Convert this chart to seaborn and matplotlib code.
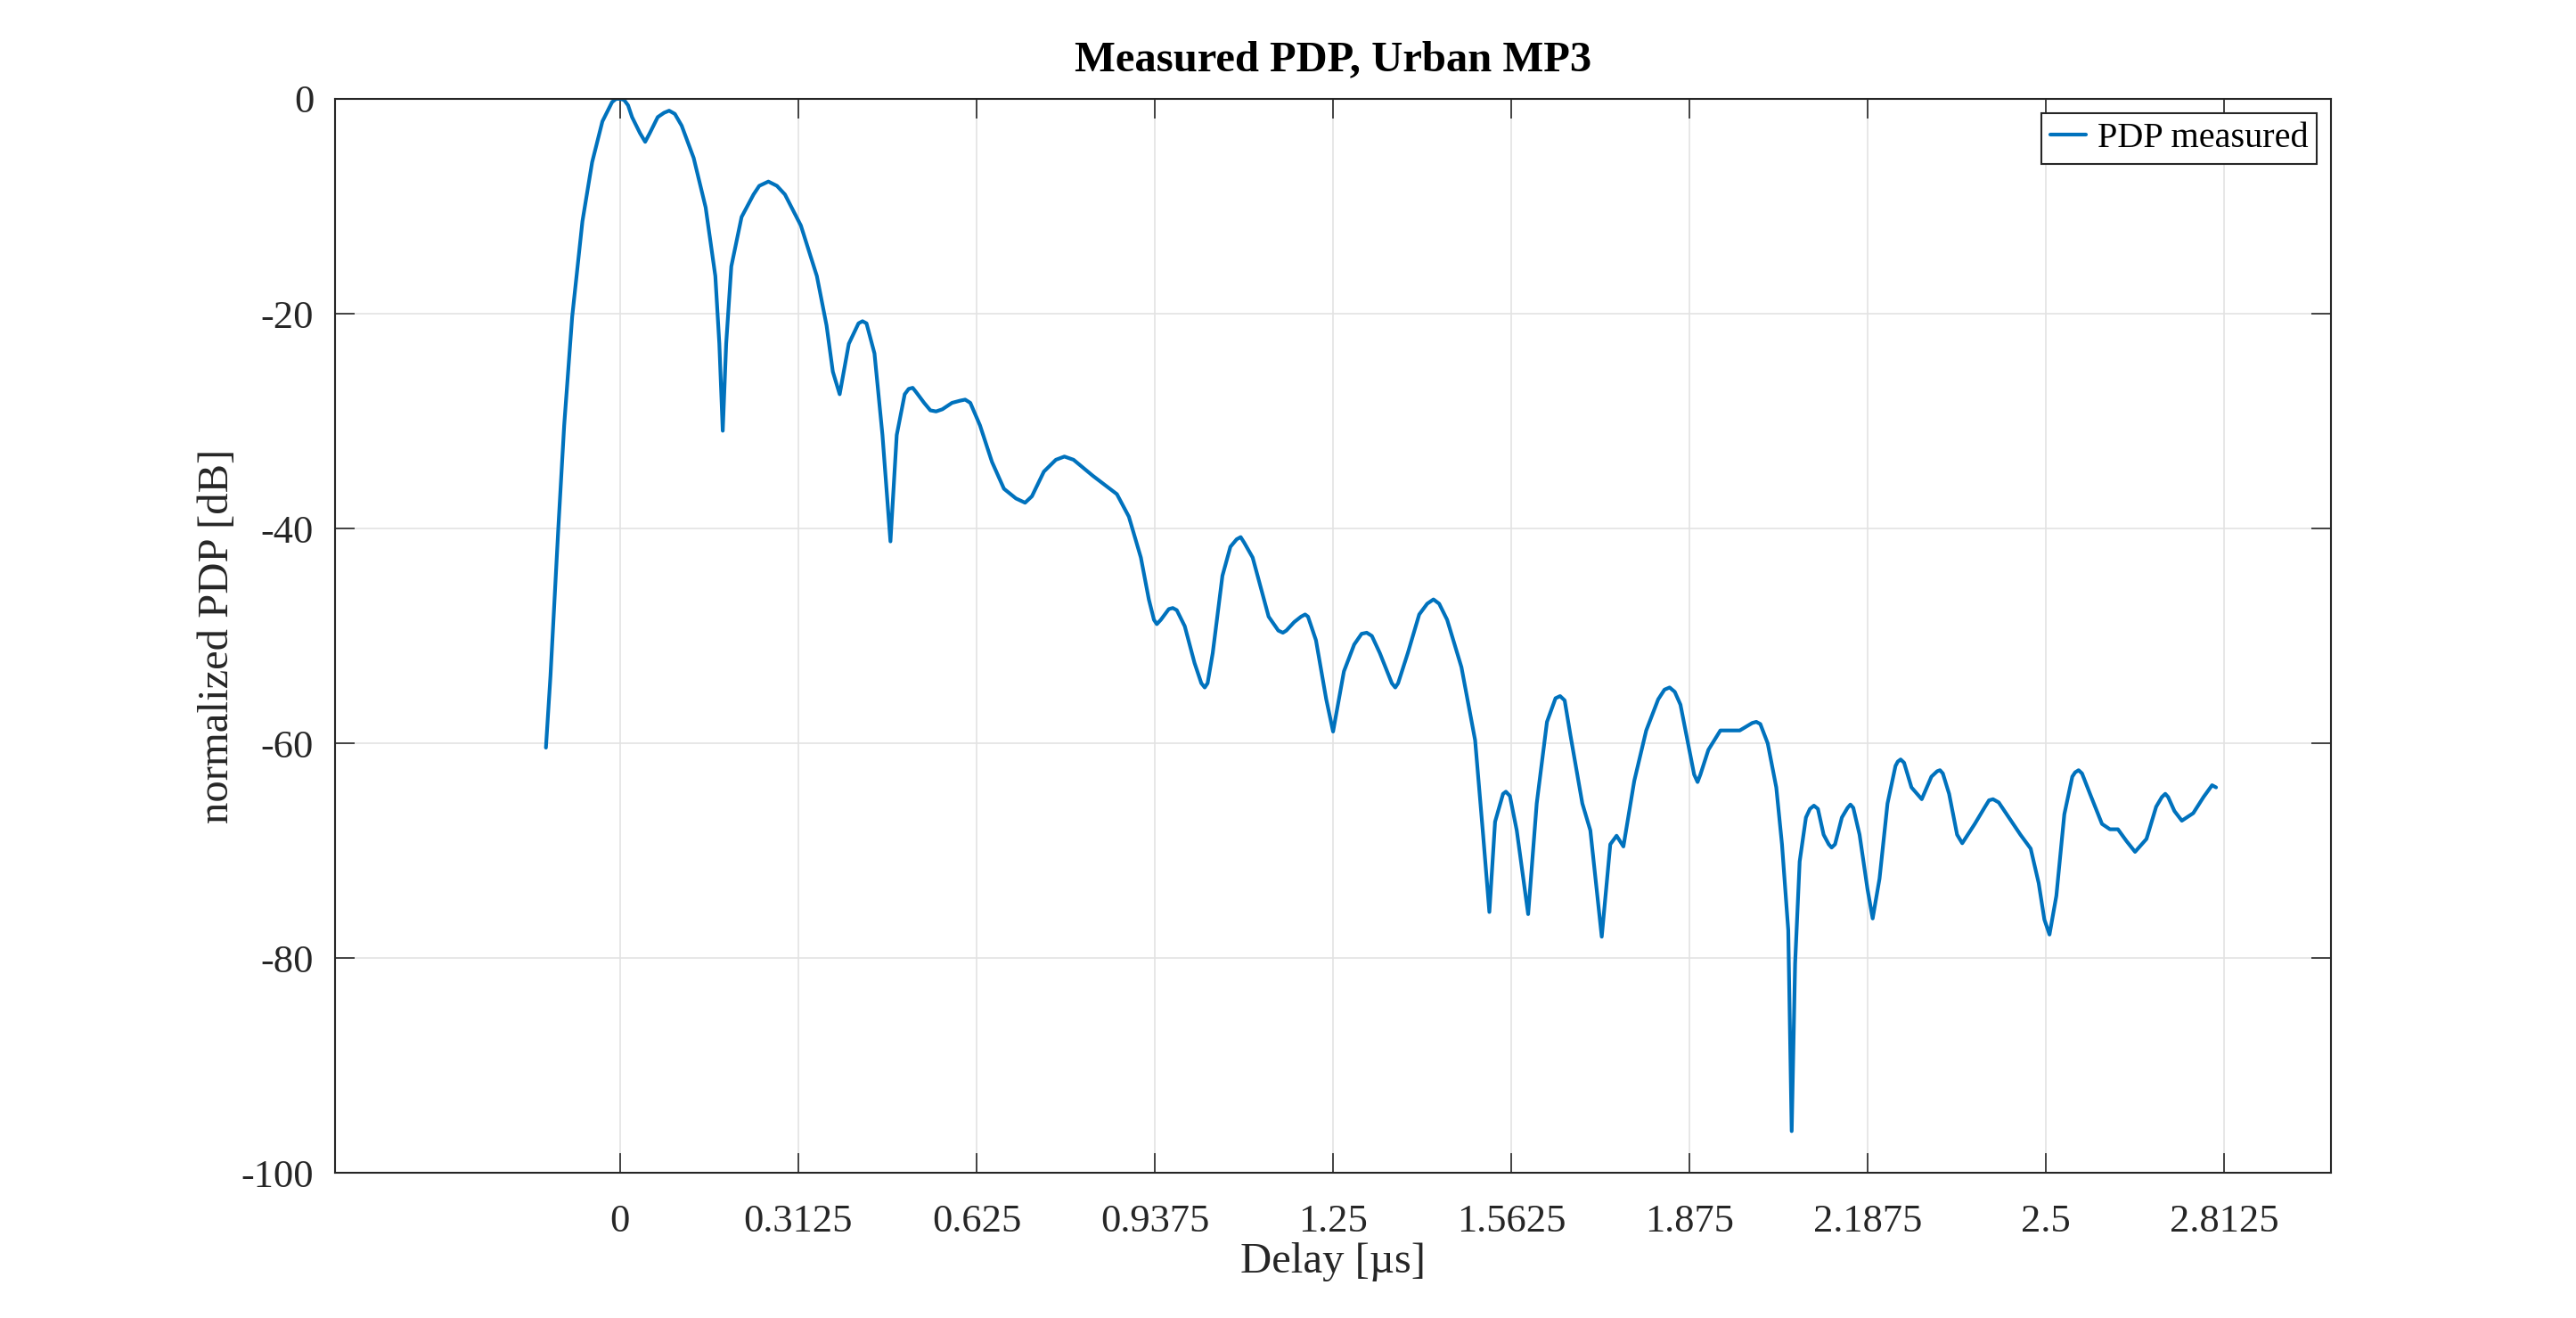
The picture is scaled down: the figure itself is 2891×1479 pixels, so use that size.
import numpy as np
import pandas as pd
import matplotlib
matplotlib.use("Agg")
import matplotlib.pyplot as plt
import seaborn as sns

# ---- data ----
delay_us = [
    -0.130, -0.122, -0.108, -0.098, -0.084, -0.066, -0.049, -0.031, -0.014, -0.007,
    0.000, 0.007, 0.014, 0.021, 0.035, 0.044, 0.052, 0.066, 0.077, 0.086,
    0.096, 0.108, 0.129, 0.150, 0.167, 0.174, 0.180, 0.186, 0.195, 0.213,
    0.234, 0.244, 0.260, 0.275, 0.289, 0.317, 0.345, 0.362, 0.373, 0.385,
    0.401, 0.418, 0.425, 0.432, 0.446, 0.460, 0.474, 0.485, 0.499, 0.506,
    0.513, 0.519, 0.533, 0.544, 0.554, 0.565, 0.582, 0.596, 0.605, 0.614,
    0.631, 0.652, 0.673, 0.694, 0.710, 0.722, 0.743, 0.764, 0.779, 0.795,
    0.829, 0.871, 0.892, 0.913, 0.927, 0.936, 0.941, 0.948, 0.962, 0.969,
    0.976, 0.990, 1.007, 1.019, 1.025, 1.030, 1.039, 1.056, 1.070, 1.081,
    1.088, 1.094, 1.109, 1.137, 1.154, 1.162, 1.168, 1.182, 1.194, 1.201,
    1.206, 1.220, 1.238, 1.250, 1.269, 1.287, 1.300, 1.309, 1.318, 1.332,
    1.353, 1.359, 1.364, 1.381, 1.401, 1.415, 1.426, 1.436, 1.450, 1.475,
    1.499, 1.513, 1.524, 1.534, 1.548, 1.553, 1.560, 1.572, 1.592, 1.607,
    1.625, 1.640, 1.648, 1.656, 1.666, 1.687, 1.701, 1.721, 1.736, 1.747,
    1.759, 1.778, 1.799, 1.820, 1.831, 1.840, 1.849, 1.859, 1.873, 1.883,
    1.889, 1.894, 1.908, 1.929, 1.943, 1.963, 1.985, 1.992, 1.999, 2.012,
    2.027, 2.037, 2.048, 2.054, 2.060, 2.068, 2.079, 2.086, 2.093, 2.100,
    2.110, 2.119, 2.124, 2.130, 2.142, 2.152, 2.157, 2.162, 2.173, 2.187,
    2.196, 2.208, 2.222, 2.236, 2.240, 2.245, 2.251, 2.264, 2.282, 2.299,
    2.309, 2.314, 2.319, 2.330, 2.344, 2.353, 2.375, 2.393, 2.400, 2.407,
    2.417, 2.431, 2.455, 2.473, 2.487, 2.497, 2.506, 2.518, 2.532, 2.546,
    2.551, 2.557, 2.563, 2.577, 2.598, 2.612, 2.626, 2.641, 2.656, 2.676,
    2.693, 2.703, 2.709, 2.714, 2.725, 2.738, 2.758, 2.776, 2.791, 2.798,
]
pdp_db = [
    -60.4, -53.7, -39.7, -30.4, -20.3, -11.4, -5.9, -2.1, -0.3, 0.0,
    0.0, -0.1, -0.6, -1.7, -3.2, -4.0, -3.2, -1.7, -1.3, -1.1,
    -1.4, -2.5, -5.5, -10.1, -16.5, -22.8, -30.9, -22.8, -15.6, -11.0,
    -8.9, -8.1, -7.7, -8.1, -8.9, -11.8, -16.5, -21.1, -25.4, -27.5,
    -22.8, -20.9, -20.7, -20.9, -23.7, -31.3, -41.2, -31.3, -27.5, -27.0,
    -26.9, -27.3, -28.3, -29.0, -29.1, -28.9, -28.3, -28.1, -28.0, -28.3,
    -30.4, -33.8, -36.3, -37.2, -37.6, -37.0, -34.7, -33.6, -33.3, -33.6,
    -35.1, -36.8, -38.9, -42.7, -46.6, -48.5, -48.9, -48.5, -47.5, -47.4,
    -47.6, -49.1, -52.5, -54.4, -54.8, -54.4, -51.6, -44.4, -41.7, -41.0,
    -40.8, -41.3, -42.7, -48.2, -49.5, -49.7, -49.5, -48.7, -48.2, -48.0,
    -48.2, -50.4, -55.9, -58.9, -53.3, -50.8, -49.8, -49.7, -50.0, -51.6,
    -54.4, -54.8, -54.4, -51.6, -48.0, -47.0, -46.6, -47.0, -48.5, -52.9,
    -59.7, -68.5, -75.7, -67.3, -64.7, -64.5, -64.9, -68.1, -75.9, -65.6,
    -58.0, -55.8, -55.6, -56.0, -59.2, -65.6, -68.1, -78.0, -69.4, -68.6,
    -69.6, -63.5, -58.8, -55.9, -55.0, -54.8, -55.2, -56.4, -60.2, -62.9,
    -63.6, -62.9, -60.6, -58.8, -58.8, -58.8, -58.1, -58.0, -58.2, -60.0,
    -64.1, -69.4, -77.4, -96.1, -80.5, -71.0, -66.9, -66.1, -65.8, -66.1,
    -68.5, -69.4, -69.7, -69.4, -66.9, -66.0, -65.7, -66.0, -68.5, -73.6,
    -76.3, -72.6, -65.6, -62.1, -61.7, -61.5, -61.8, -64.1, -65.2, -63.1,
    -62.6, -62.5, -62.8, -64.7, -68.5, -69.3, -67.5, -65.9, -65.3, -65.2,
    -65.5, -66.6, -68.5, -69.8, -73.0, -76.4, -77.8, -74.2, -66.6, -63.1,
    -62.7, -62.5, -62.8, -64.7, -67.5, -68.0, -68.0, -69.1, -70.1, -68.9,
    -65.9, -65.0, -64.7, -65.0, -66.3, -67.2, -66.5, -65.0, -63.9, -64.1,
]
x_ticks = [0, 0.3125, 0.625, 0.9375, 1.25, 1.5625, 1.875, 2.1875, 2.5, 2.8125]
x_tick_labels = ["0", "0.3125", "0.625", "0.9375", "1.25", "1.5625", "1.875", "2.1875", "2.5", "2.8125"]
y_ticks = [-100, -80, -60, -40, -20, 0]
y_tick_labels = ["-100", "-80", "-60", "-40", "-20", "0"]
series_name = "PDP measured"

df = pd.DataFrame({"Delay": delay_us, "PDP": pdp_db, "series": series_name})

sns.set_theme(style="white")
plt.rcParams["font.family"] = ["Liberation Serif", "DejaVu Serif"]
plt.rcParams["axes.unicode_minus"] = False

dark = "#262626"
fig = plt.figure(figsize=(28.91, 14.79), dpi=100)
ax = fig.add_axes([0.130, 0.110, 0.775, 0.815])

sns.lineplot(data=df, x="Delay", y="PDP", hue="series", palette=["#0072BD"],
             linewidth=3, ax=ax, sort=False, estimator=None)
for ln in ax.get_lines():
    ln.set_solid_joinstyle("round")
    ln.set_solid_capstyle("round")

ax.set_xlim(-0.5, 3.0)
ax.set_ylim(-100, 0)
ax.set_xticks(x_ticks)
ax.set_xticklabels(x_tick_labels)
ax.set_yticks(y_ticks)
ax.set_yticklabels(y_tick_labels)

ax.grid(True, color="#e3e3e3", linewidth=1.2)
ax.set_axisbelow(True)
for s in ax.spines.values():
    s.set_visible(True)
    s.set_color(dark)
    s.set_linewidth(1.5)

ax.tick_params(axis="both", which="both", direction="in", length=16, width=1.2,
               color=dark, labelcolor=dark, labelsize=32,
               top=True, right=True, bottom=True, left=True)
ax.tick_params(axis="x", pad=25)
ax.tick_params(axis="y", pad=17)

ax.set_xlabel("Delay [µs]", fontsize=35, color=dark, labelpad=2)
ax.set_ylabel("normalized PDP [dB]", fontsize=35, color=dark, labelpad=3)
ax.set_title("Measured PDP, Urban MP3", fontsize=35, fontweight="bold", color="black", pad=23)

leg = ax.legend(loc="upper right", fontsize=29, frameon=True, fancybox=False,
                framealpha=1, edgecolor=dark, handlelength=1.0, handletextpad=0.3,
                borderpad=0.25, borderaxespad=0.4)
leg.get_frame().set_linewidth(1.5)
for t in leg.get_texts():
    t.set_color("black")

fig.savefig("out.png", dpi=100, facecolor="white")
